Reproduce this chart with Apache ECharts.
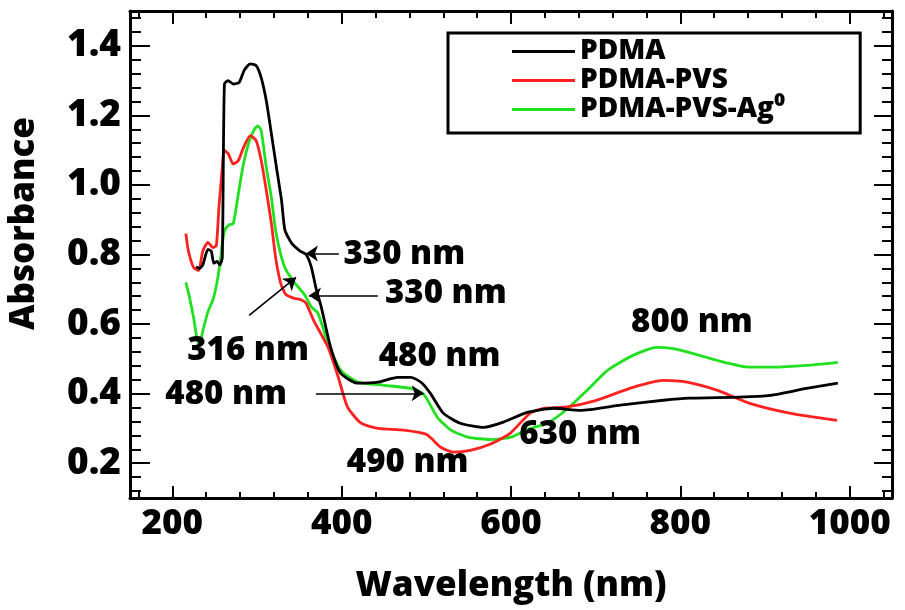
<!DOCTYPE html>
<html>
<head>
<meta charset="utf-8">
<script src="https://cdn.jsdelivr.net/npm/echarts@6/dist/echarts.min.js"></script>
<style>
html,body{margin:0;padding:0;background:#fff;}
#chart{width:905px;height:610px;}
</style>
</head>
<body>
<div id="chart"></div>
<script>
// ---- data ----
const seriesNames = ['PDMA', 'PDMA-PVS', 'PDMA-PVS-Ag\u2070'];

const pdmaWl  = [228, 232, 236, 242, 246, 249, 253, 256, 259, 261.5, 266, 272, 279, 285, 292, 299, 305, 311, 317, 323, 329, 333, 341, 351, 358, 364, 370, 376, 387, 399, 419, 443, 466, 482, 495, 505, 520, 540, 568, 591, 619, 650, 682, 729, 780, 811, 870, 906, 949, 986];
const pdmaAbs = [0.765, 0.76, 0.77, 0.815, 0.81, 0.775, 0.78, 0.77, 0.79, 1.29, 1.30, 1.29, 1.295, 1.33, 1.348, 1.343, 1.308, 1.242, 1.147, 1.05, 0.955, 0.87, 0.832, 0.81, 0.80, 0.765, 0.70, 0.648, 0.533, 0.458, 0.43, 0.433, 0.447, 0.447, 0.43, 0.40, 0.344, 0.315, 0.303, 0.318, 0.346, 0.358, 0.352, 0.367, 0.381, 0.387, 0.39, 0.395, 0.415, 0.43];

const pvsWl  = [216, 219, 225, 231, 236, 242, 248, 252, 255, 259, 261, 266, 272, 278, 284, 292, 299, 305, 311, 317, 322, 328, 334, 344, 352, 358, 367, 384, 396, 407, 423, 443, 473, 500, 517, 532, 552, 576, 599, 623, 640, 666, 700, 744, 780, 808, 843, 882, 929, 985];
const pvsAbs = [0.86, 0.81, 0.763, 0.754, 0.81, 0.835, 0.82, 0.826, 0.935, 1.05, 1.10, 1.09, 1.06, 1.07, 1.107, 1.142, 1.127, 1.07, 0.984, 0.889, 0.791, 0.717, 0.685, 0.674, 0.67, 0.66, 0.61, 0.533, 0.447, 0.361, 0.315, 0.30, 0.295, 0.283, 0.246, 0.232, 0.237, 0.255, 0.286, 0.345, 0.358, 0.362, 0.38, 0.418, 0.438, 0.433, 0.41, 0.372, 0.344, 0.323];

const agWl  = [216, 220, 225, 229, 232, 236, 242, 248, 252, 256, 259, 262, 267, 272, 278, 284, 291, 297, 301, 305, 311, 317, 322, 328, 334, 344, 356, 364, 372, 384, 399, 419, 450, 482, 497, 513, 529, 549, 576, 599, 623, 643, 666, 690, 714, 744, 772, 790, 808, 843, 882, 909, 949, 986];
const agAbs = [0.72, 0.68, 0.62, 0.56, 0.54, 0.58, 0.635, 0.67, 0.71, 0.77, 0.83, 0.87, 0.885, 0.889, 0.975, 1.061, 1.127, 1.16, 1.17, 1.156, 1.05, 0.964, 0.869, 0.80, 0.757, 0.72, 0.685, 0.65, 0.631, 0.545, 0.467, 0.433, 0.424, 0.415, 0.398, 0.332, 0.295, 0.275, 0.268, 0.274, 0.30, 0.315, 0.355, 0.41, 0.467, 0.51, 0.533, 0.53, 0.52, 0.496, 0.476, 0.476, 0.481, 0.49];

// tick positions / labels
const xMajorTicks = [200, 400, 600, 800, 1000];
const xMinorTicks = [160, 240, 280, 320, 360, 440, 480, 520, 560, 640, 680, 720, 760, 840, 880, 920, 960, 1040];
const yMajorTicks = [0.2, 0.4, 0.6, 0.8, 1.0, 1.2, 1.4];
const yMinorTicks = [0.12, 0.16, 0.24, 0.28, 0.32, 0.36, 0.44, 0.48, 0.52, 0.56, 0.64, 0.68, 0.72, 0.76, 0.84, 0.88, 0.92, 0.96, 1.04, 1.08, 1.12, 1.16, 1.24, 1.28, 1.32, 1.36, 1.44, 1.48];

// annotations (data coordinates)
const annText = ['330 nm', '330 nm', '316 nm', '480 nm', '480 nm', '490 nm', '630 nm', '800 nm'];
const annWl   = [474, 523, 289.5, 515.7, 263.6, 478, 681.7, 813.7];
const annAbs  = [0.80, 0.688, 0.524, 0.507, 0.398, 0.203, 0.283, 0.605];

const arrowFromWl  = [396.7, 442.6, 290.7, 369.6];
const arrowFromAbs = [0.803, 0.682, 0.625, 0.401];
const arrowToWl    = [357.8, 361.4, 346.1, 496.8];
const arrowToAbs   = [0.803, 0.682, 0.734, 0.401];

// ---- chart ----
const FONT = "'Open Sans', 'Noto Sans', sans-serif";
const W = 800;
const X_MIN = 150, X_MAX = 1050, Y_MIN = 0.1, Y_MAX = 1.5;

function pairs(xs, ys) { return xs.map((x, i) => [x, ys[i]]); }

function xAx(pos, ticks, len, major, withLabels) {
  return {
    type: 'value', position: pos, min: X_MIN, max: X_MAX,
    axisLine: { show: major, onZero: false, lineStyle: { color: '#000', width: 3 } },
    axisTick: { show: true, inside: true, length: len, customValues: ticks, lineStyle: { color: '#000', width: 2 } },
    axisLabel: withLabels ? {
      show: true, customValues: ticks, margin: 9,
      formatter: v => String(Math.round(v)),
      color: '#000', fontFamily: FONT, fontWeight: W, fontSize: 35
    } : { show: false },
    splitLine: { show: false }
  };
}
function yAx(pos, ticks, len, major, withLabels) {
  return {
    type: 'value', position: pos, min: Y_MIN, max: Y_MAX,
    axisLine: { show: major, onZero: false, lineStyle: { color: '#000', width: 3 } },
    axisTick: { show: true, inside: true, length: len, customValues: ticks, lineStyle: { color: '#000', width: 2 } },
    axisLabel: withLabels ? {
      show: true, customValues: ticks, margin: 9,
      formatter: v => v.toFixed(1),
      color: '#000', fontFamily: FONT, fontWeight: W, fontSize: 37
    } : { show: false },
    splitLine: { show: false }
  };
}

const xAxes = [
  Object.assign(xAx('bottom', xMajorTicks, 12, true, true), {
    name: 'Wavelength (nm)', nameLocation: 'middle', nameGap: 71,
    nameTextStyle: { color: '#000', fontFamily: FONT, fontWeight: W, fontSize: 35 }
  }),
  xAx('bottom', xMinorTicks, 6, false, false),
  xAx('top', xMajorTicks, 13, true, false),
  xAx('top', xMinorTicks, 7, false, false)
];
const yAxes = [
  Object.assign(yAx('left', yMajorTicks, 20, true, true), {
    name: 'Absorbance', nameLocation: 'middle', nameGap: 88,
    nameTextStyle: { color: '#000', fontFamily: FONT, fontWeight: W, fontSize: 35, padding: [0, 0, 0, 62] }
  }),
  yAx('left', yMinorTicks, 11, false, false),
  yAx('right', yMajorTicks, 18, true, false),
  yAx('right', yMinorTicks, 10, false, false)
];

const colors = ['#000000', '#ff2020', '#20e020'];
const lineData = [pairs(pdmaWl, pdmaAbs), pairs(pvsWl, pvsAbs), pairs(agWl, agAbs)];

const series = seriesNames.map((n, i) => ({
  name: n, type: 'line', data: lineData[i],
  xAxisIndex: 0, yAxisIndex: 0,
  showSymbol: false, symbol: 'none', smooth: 0.2,
  lineStyle: { color: colors[i], width: 2.8 },
  itemStyle: { color: colors[i] },
  z: 3 - i
}));

series.push({
  name: 'annotations', type: 'scatter', xAxisIndex: 0, yAxisIndex: 0,
  symbolSize: 0.01, itemStyle: { color: '#000' }, silent: true,
  data: annText.map((t, i) => ({ name: t, value: [annWl[i], annAbs[i]] })),
  label: {
    show: true, position: [0, 0], align: 'center', verticalAlign: 'middle', formatter: '{b}',
    color: '#000', opacity: 1, textBorderWidth: 0,
    fontFamily: FONT, fontWeight: W, fontSize: 33
  },
  emphasis: { disabled: true },
  markLine: {
    silent: true, symbol: ['none', 'arrow'], symbolSize: 12, animation: false,
    label: { show: false },
    emphasis: { disabled: true },
    lineStyle: { color: '#000', width: 1.6, type: 'solid' },
    data: arrowFromWl.map((w, i) => [
      { coord: [w, arrowFromAbs[i]] },
      { coord: [arrowToWl[i], arrowToAbs[i]] }
    ])
  },
  z: 5
});

const chart = echarts.init(document.getElementById('chart'), null, { renderer: 'canvas' });
chart.setOption({
  animation: false,
  backgroundColor: '#fff',
  grid: { left: 130, right: 13, top: 11, bottom: 112, containLabel: false, outerBoundsMode: 'none' },
  legend: {
    data: seriesNames, orient: 'vertical', left: 448, top: 33,
    padding: [4, 75, 9, 64], itemGap: 0, itemWidth: 63, itemHeight: 3, icon: 'rect',
    borderColor: '#000', borderWidth: 3, backgroundColor: '#fff',
    selectedMode: false,
    textStyle: { color: '#000', fontFamily: FONT, fontWeight: W, fontSize: 28, lineHeight: 29 }
  },
  xAxis: xAxes,
  yAxis: yAxes,
  series: series
});
</script>
</body>
</html>
